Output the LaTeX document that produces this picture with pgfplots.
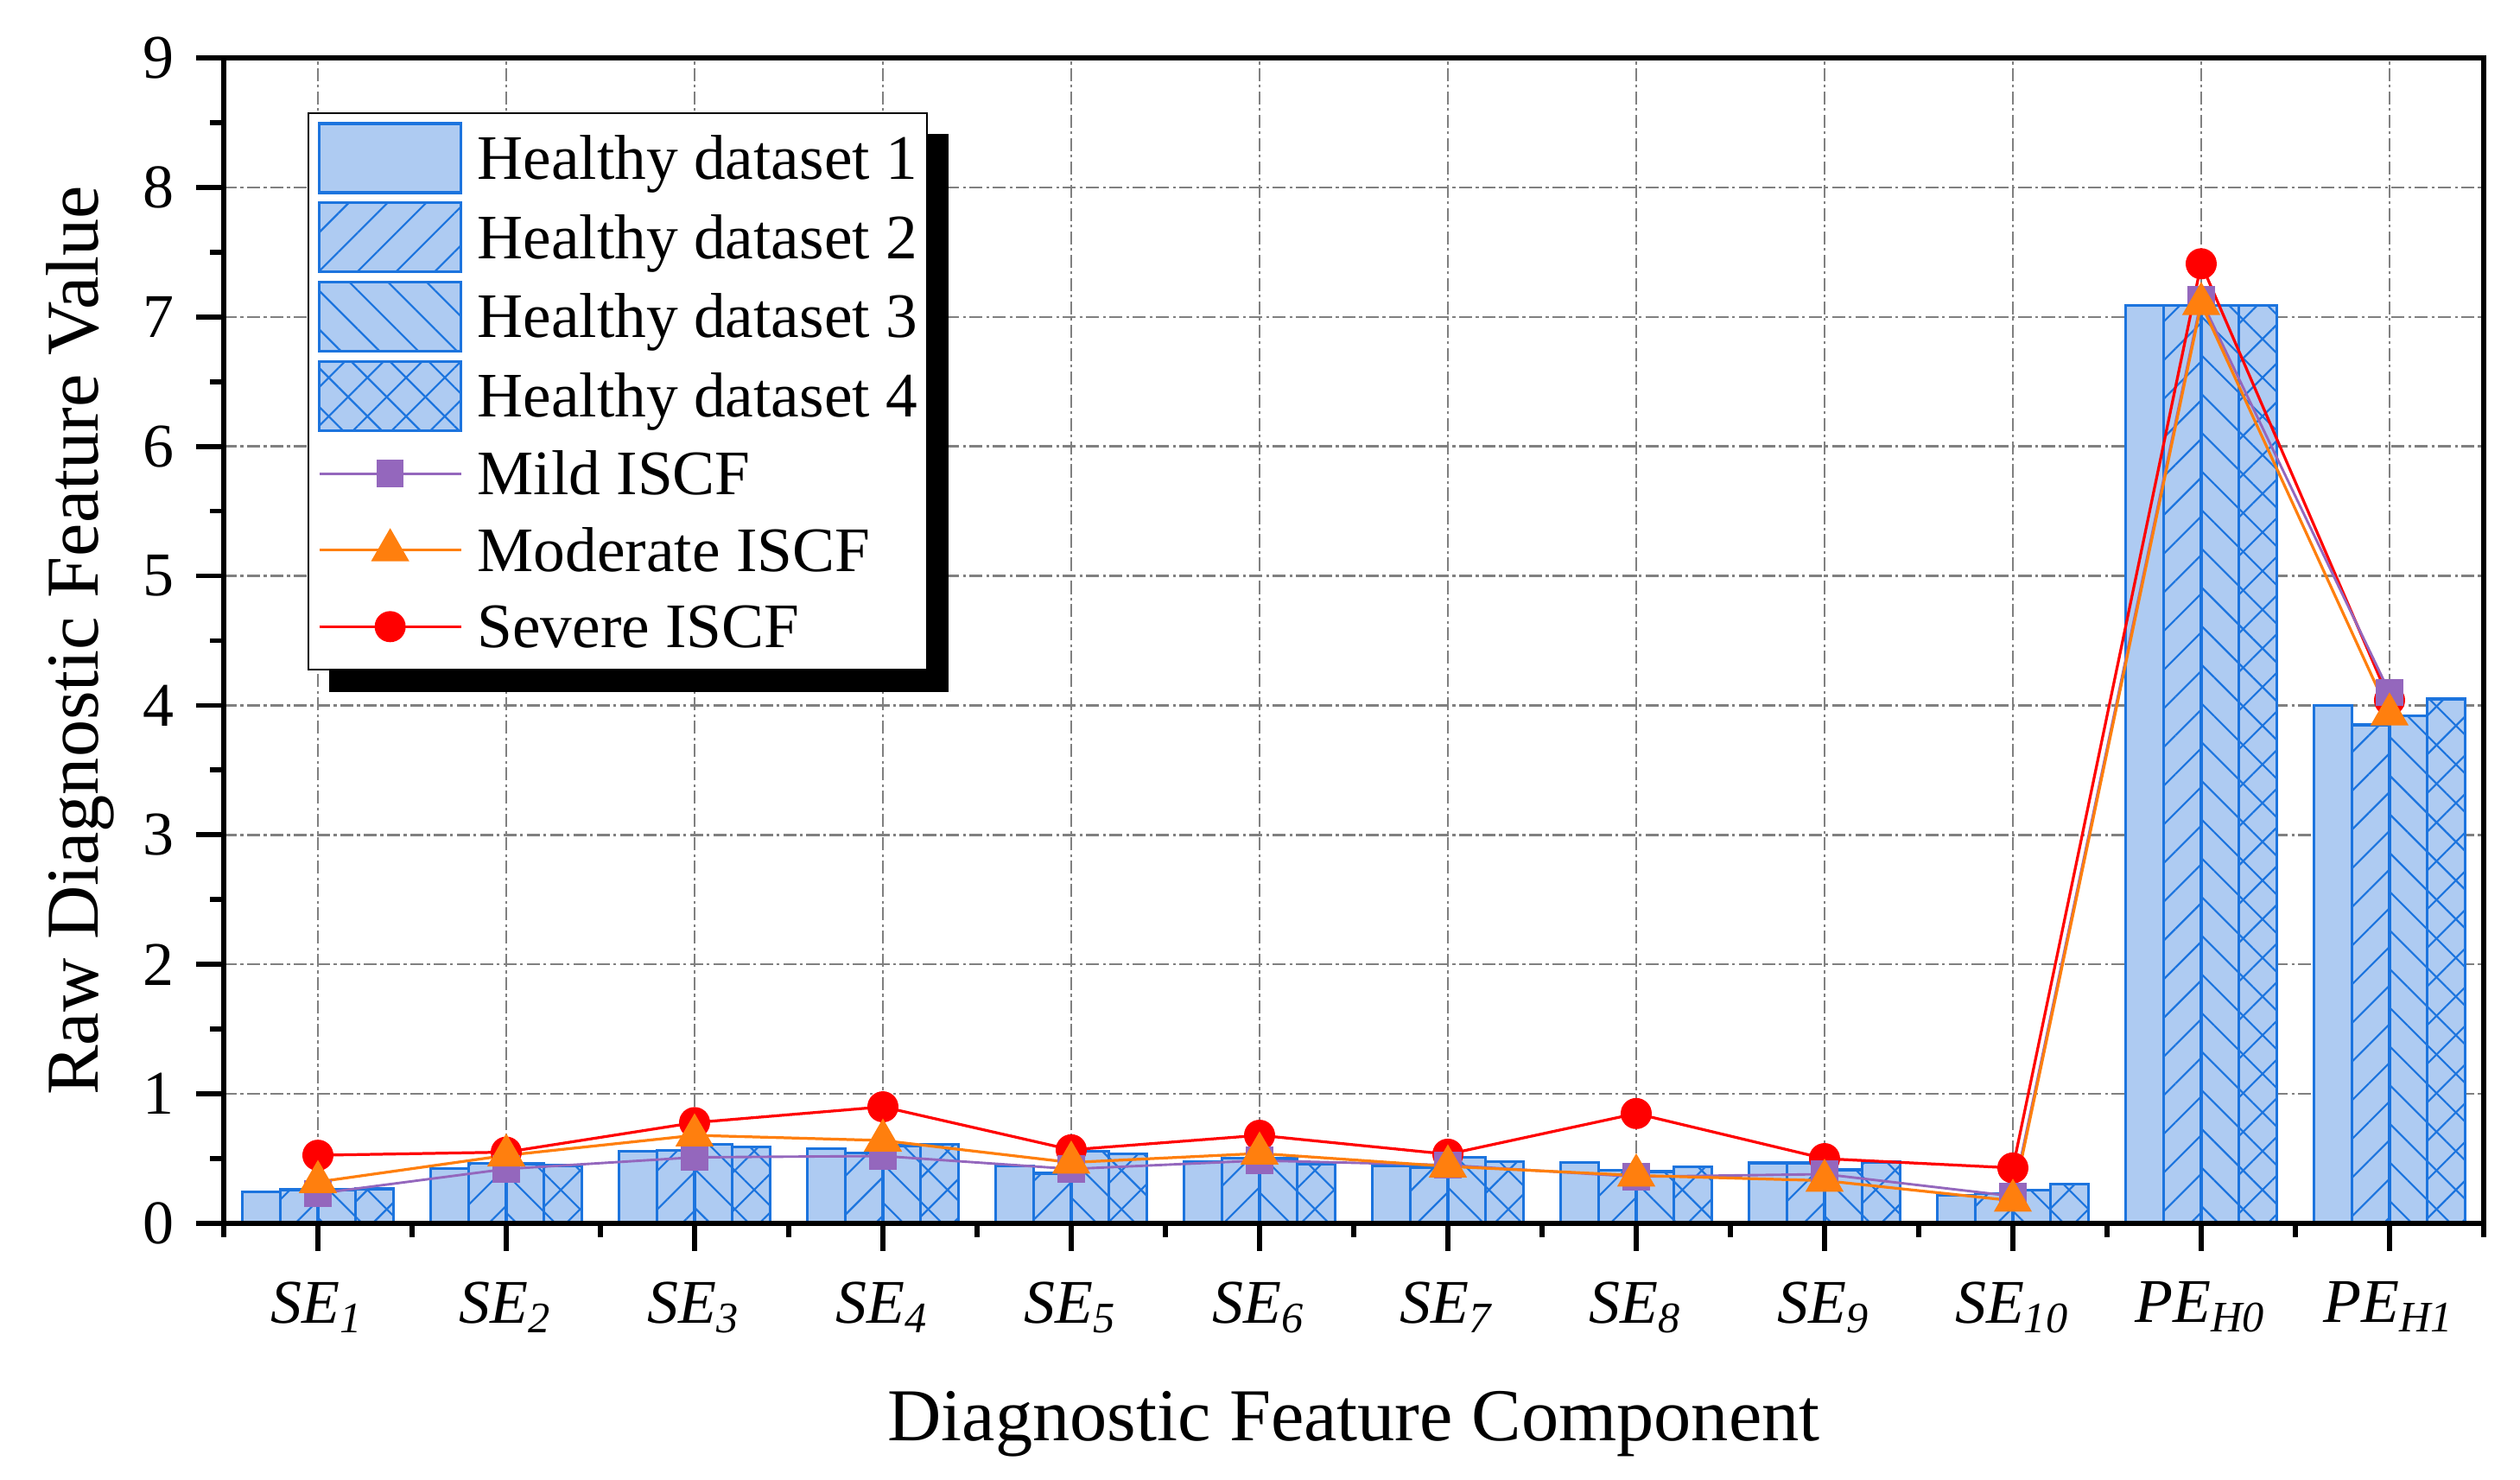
\documentclass[border=0pt]{standalone}
\usepackage{fontspec}
\setmainfont{Liberation Serif}
\usepackage{pgfplots}
\usepackage{pgfplotstable}
\pgfplotsset{compat=1.18}
\usetikzlibrary{patterns.meta}

\definecolor{barfill}{RGB}{174,203,242}
\definecolor{baredge}{RGB}{28,116,222}
\definecolor{cmild}{RGB}{148,103,189}
\definecolor{cmod}{RGB}{255,127,14}
\definecolor{csev}{RGB}{255,0,0}
\definecolor{gridgray}{RGB}{128,128,128}

\pgfplotstableread{
x h1 h2 h3 h4
0 0.245 0.260 0.260 0.267
1 0.425 0.465 0.460 0.447
2 0.557 0.563 0.609 0.588
3 0.575 0.543 0.600 0.609
4 0.443 0.387 0.557 0.538
5 0.477 0.505 0.500 0.455
6 0.443 0.434 0.509 0.475
7 0.468 0.410 0.400 0.439
8 0.466 0.466 0.414 0.473
9 0.217 0.230 0.256 0.303
10 7.09 7.09 7.09 7.09
11 4.00 3.85 3.92 4.05
}\bars

\pgfplotstableread{
x mild moderate severe
0 0.23 0.32 0.526
1 0.42 0.525 0.55
2 0.51 0.68 0.778
3 0.52 0.64 0.90
4 0.42 0.47 0.568
5 0.485 0.54 0.68
6 0.45 0.44 0.534
7 0.36 0.37 0.848
8 0.38 0.33 0.50
9 0.21 0.175 0.428
10 7.13 7.10 7.41
11 4.10 3.93 4.04
}\lines

\pgfplotsset{
  barbase/.style={ybar, bar width=0.2, draw=baredge, fill=barfill, line width=0.45pt,
    legend image code/.code={\draw[##1] (0pt,-5.55pt) rectangle (22.8pt,5.55pt);}},
  linelegend/.style={legend image code/.code={\draw[mark repeat=2,mark phase=2,##1] plot coordinates {(0pt,0pt) (11.4pt,0pt) (22.8pt,0pt)};}},
  mildstyle/.style={linelegend, cmild, line width=0.4pt, mark=square*, mark size=2.1pt, mark options={solid, fill=cmild, draw=cmild, line width=0.2pt}},
  modstyle/.style={linelegend, cmod, line width=0.45pt, mark=triangle*, mark size=3.35pt, mark options={solid, fill=cmod, draw=cmod, line width=0.2pt}},
  sevstyle/.style={linelegend, csev, line width=0.45pt, mark=*, mark size=2.4pt, mark options={solid, fill=csev, draw=csev, line width=0.2pt}},
}
\tikzset{
  patNE/.style={postaction={pattern={Lines[angle=45,distance=4.4pt,line width=0.3pt]},pattern color=baredge}},
  patNW/.style={postaction={pattern={Lines[angle=-45,distance=4.4pt,line width=0.3pt]},pattern color=baredge}},
}

\begin{document}
\begin{tikzpicture}
\begin{axis}[
  scale only axis, width=363.6pt, height=187.5pt,
  xmin=-0.5, xmax=11.5, ymin=0, ymax=9,
  xtick={0,...,11},
  xticklabels={{\textit{SE}\textsubscript{\textit{1}}},{\textit{SE}\textsubscript{\textit{2}}},{\textit{SE}\textsubscript{\textit{3}}},{\textit{SE}\textsubscript{\textit{4}}},{\textit{SE}\textsubscript{\textit{5}}},{\textit{SE}\textsubscript{\textit{6}}},{\textit{SE}\textsubscript{\textit{7}}},{\textit{SE}\textsubscript{\textit{8}}},{\textit{SE}\textsubscript{\textit{9}}},{\textit{SE}\textsubscript{\textit{10}}},{\textit{PE}\textsubscript{\textit{H0}}},{\textit{PE}\textsubscript{\textit{H1}}}},
  minor xtick={-0.5,0.5,...,11.5},
  ytick={0,...,9},
  minor ytick={0.5,1.5,...,8.5},
  tick pos=left, tick align=outside,
  major tick length=4.4pt, minor tick length=2.2pt,
  every tick/.style={black, line width=0.8pt},
  axis line style={line width=0.8pt},
  grid=major,
  major grid style={gridgray, line width=0.35pt, dash pattern=on 2.1pt off 0.6pt on 0.45pt off 0.6pt},
  /pgf/number format/assume math mode=true,
  tick label style={font=\fontsize{10}{12}\selectfont},
  xticklabel style={yshift=-1.5pt},
  xlabel={Diagnostic Feature Component},
  ylabel={Raw Diagnostic Feature Value},
  label style={font=\fontsize{12}{14}\selectfont},
  xlabel style={at={([yshift=-35pt]axis description cs:0.5,0)}, anchor=base},
  ylabel style={at={([xshift=-20.2pt]axis description cs:0,0.5)}, anchor=base},
  legend cell align=left,
  legend style={name=leg, at={(axis description cs:0,1)}, anchor=north west, xshift=13.5pt, yshift=-8.8pt,
    draw=black, line width=0.3pt, fill=white, inner xsep=1.5pt, inner ysep=1.4pt,
    row sep=1.2pt, column sep=2.4pt, font=\fontsize{10.2}{12}\selectfont,
    nodes={inner xsep=0pt, inner ysep=0pt, text height=8.95pt, text depth=2.15pt}},
]
\addplot[barbase, bar shift=-0.3] table[x=x,y=h1] {\bars};
\addlegendentry{Healthy dataset 1}
\addplot[barbase, bar shift=-0.1, patNE] table[x=x,y=h2] {\bars};
\addlegendentry{Healthy dataset 2}
\addplot[barbase, bar shift=0.1, patNW] table[x=x,y=h3] {\bars};
\addlegendentry{Healthy dataset 3}
\addplot[barbase, bar shift=0.3, patNE, patNW] table[x=x,y=h4] {\bars};
\addlegendentry{Healthy dataset 4}
\addlegendimage{mildstyle}
\addlegendentry{Mild ISCF}
\addlegendimage{modstyle}
\addlegendentry{Moderate ISCF}
\addlegendimage{sevstyle}
\addlegendentry{Severe ISCF}
\addplot[sevstyle, forget plot] table[x=x,y=severe] {\lines};
\addplot[mildstyle, forget plot] table[x=x,y=mild] {\lines};
\addplot[modstyle, forget plot] table[x=x,y=moderate] {\lines};
\draw[line width=0.8pt, black] (rel axis cs:0,0) rectangle (rel axis cs:1,1);
\end{axis}
\fill[black] ([yshift=-3.4pt]leg.north east) rectangle ([xshift=3.4pt,yshift=-3.4pt]leg.south east);
\fill[black] ([xshift=3.4pt]leg.south west) rectangle ([xshift=3.4pt,yshift=-3.4pt]leg.south east);
\pgfresetboundingbox
\path ([xshift=-36pt,yshift=-41.28pt]current axis.south west) rectangle ([xshift=5.84pt,yshift=9.31pt]current axis.north east);
\end{tikzpicture}
\end{document}
